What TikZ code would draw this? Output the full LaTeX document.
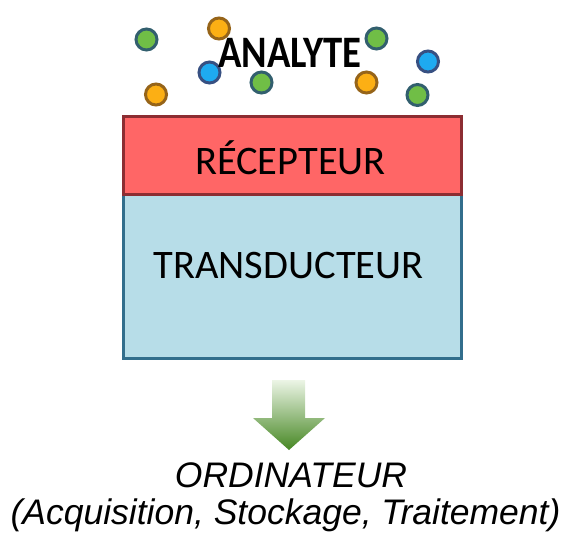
\documentclass[tikz,border=0pt]{standalone}
\usepackage{fontspec}
\setmainfont{Carlito}
\newfontfamily\arialfont{Liberation Sans}
\definecolor{recfill}{RGB}{255,102,102}
\definecolor{recdraw}{RGB}{140,45,50}
\definecolor{trafill}{RGB}{183,221,232}
\definecolor{tradraw}{RGB}{50,110,140}
\definecolor{gfill}{RGB}{112,190,70}
\definecolor{gdraw}{RGB}{50,95,110}
\definecolor{ofill}{RGB}{252,175,20}
\definecolor{odraw}{RGB}{150,100,25}
\definecolor{bfill}{RGB}{30,170,240}
\definecolor{bdraw}{RGB}{55,80,130}
\definecolor{arrtop}{RGB}{236,245,230}
\definecolor{arrbot}{RGB}{70,135,35}
\tikzset{
  boxtext/.style={anchor=base, inner sep=0pt, font=\fontsize{40.5}{44}\selectfont},
  ballg/.style={circle, minimum size=21pt, inner sep=0pt, fill=gfill, draw=gdraw, line width=3pt},
  ballo/.style={circle, minimum size=21pt, inner sep=0pt, fill=ofill, draw=odraw, line width=3pt},
  ballb/.style={circle, minimum size=21pt, inner sep=0pt, fill=bfill, draw=bdraw, line width=3pt},
  bottomtext/.style={anchor=base, inner sep=0pt, font=\arialfont\itshape\fontsize{35.5}{40}\selectfont}
}
\begin{document}
\begin{tikzpicture}[x=1pt,y=-1pt]
\useasboundingbox (0,0) rectangle (569,536);
% boxes
\path[fill=trafill, draw=tradraw, line width=3pt] (123,194) rectangle (461,358);
\path[fill=recfill, draw=recdraw, line width=3pt] (123,116) rectangle (461,194);
\coordinate (rc) at (290.5,174);
\coordinate (tc) at (288.5,278);
\node[boxtext] (rec) at (rc) {RÉCEPTEUR};
\node[boxtext] (tra) at (tc) {TRANSDUCTEUR};
% analyte particles
\node[ballg] (g1) at (146.5,39.5) {};
\node[ballo] (o1) at (219,28.5) {};
\node[ballb] (b1) at (209.5,72.5) {};
\node[ballg] (g2) at (261.5,82.5) {};
\node[ballg] (g3) at (376.5,38.5) {};
\node[ballo] (o2) at (366.5,82.5) {};
\node[ballb] (b2) at (428,61.5) {};
\node[ballg] (g4) at (417.5,95) {};
\node[ballo] (o3) at (156,94.5) {};
\node[anchor=base, inner sep=0pt, font=\bfseries\fontsize{45}{48}\selectfont, xscale=0.86] (ana) at (290,67) {ANALYTE};
% arrow
\shade[top color=arrtop, bottom color=arrbot, shading angle=0]
  (272,380) -- (305,380) -- (305,418) -- (325,418) -- (289,450) -- (253,418) -- (272,418) -- cycle;
% bottom text
\node[bottomtext] (ord) at (291,487) {ORDINATEUR};
\node[bottomtext] (acq) at (285.5,524) {(Acquisition, Stockage, Traitement)};
\end{tikzpicture}
\end{document}
